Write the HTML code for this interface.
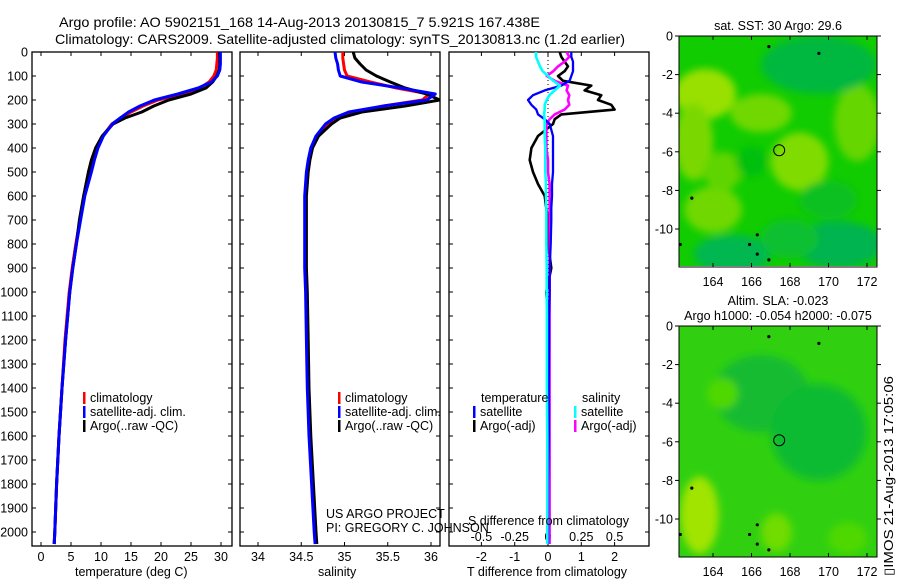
<!DOCTYPE html>
<html><head><meta charset="utf-8"><style>
body{margin:0;background:#fff;}
svg{display:block;font-family:"Liberation Sans",sans-serif;}
text{fill:#000;}
</style></head><body>
<svg id="c" width="900" height="580" viewBox="0 0 900 580">
<defs>
<clipPath id="cp1"><rect x="32" y="52" width="200" height="494"/></clipPath>
<clipPath id="cp2"><rect x="240" y="52" width="200" height="494"/></clipPath>
<clipPath id="cp3"><rect x="449" y="52" width="200" height="494"/></clipPath>
<clipPath id="cm1"><rect x="679" y="36" width="198" height="230"/></clipPath>
<clipPath id="cm2"><rect x="679" y="326" width="198" height="231"/></clipPath>
<filter id="bl" x="-50%" y="-50%" width="200%" height="200%"><feGaussianBlur stdDeviation="4"/></filter>
</defs>
<text x="59" y="27" font-size="14" textLength="481" lengthAdjust="spacingAndGlyphs">Argo profile: AO 5902151_168 14-Aug-2013 20130815_7 5.921S 167.438E</text>
<text x="55" y="44" font-size="14" textLength="570" lengthAdjust="spacingAndGlyphs">Climatology: CARS2009. Satellite-adjusted climatology: synTS_20130813.nc (1.2d earlier)</text>
<g id="maps"></g>
<g id="plots"></g>
<text transform="translate(893,576) rotate(-90)" font-size="13" textLength="200" lengthAdjust="spacingAndGlyphs">▯IMOS 21-Aug-2013 17:05:06</text>
</svg>
<script>
// ---------- data ----------
const depths = [0,25,50,75,100,125,150,175,200,225,250,275,300,350,400,450,500,600,700,800,900,1000,1200,1400,1600,1800,2000,2050];
const tempClim = [29.4,29.4,29.3,29.2,28.8,28.0,26.5,23.5,19.5,17.0,15.0,13.3,11.8,10.3,9.4,8.8,8.3,7.2,6.5,5.8,5.2,4.7,4.0,3.5,3.0,2.6,2.3,2.2];
const tempSat = [29.9,29.9,29.9,29.8,29.4,28.4,26.2,22.8,18.9,16.5,14.6,13.2,11.9,10.4,9.5,8.9,8.4,7.3,6.6,5.9,5.3,4.8,4.1,3.5,3.0,2.6,2.3,2.2];
const tempArgo = [29.7,29.8,29.8,29.7,29.3,28.6,27.5,25.0,21.3,18.8,16.8,14.0,12.0,10.2,9.1,8.4,7.9,7.1,6.4,5.9,5.3,4.8,4.1,3.5,3.0,2.6,2.3,2.2];
const salClim = [34.98,34.98,34.99,35.0,35.03,35.3,35.6,35.98,35.9,35.45,35.1,34.9,34.8,34.68,34.62,34.59,34.57,34.55,34.55,34.55,34.55,34.56,34.57,34.58,34.6,34.63,34.66,34.67];
const salSat = [34.89,34.9,34.92,34.93,34.95,35.2,35.65,36.05,35.95,35.45,35.05,34.88,34.78,34.67,34.61,34.58,34.56,34.54,34.54,34.54,34.54,34.55,34.56,34.57,34.59,34.62,34.65,34.66];
const salArgo = [35.1,35.12,35.18,35.25,35.37,35.53,35.7,35.95,36.1,35.7,35.2,34.95,34.85,34.7,34.63,34.6,34.58,34.56,34.56,34.56,34.56,34.57,34.58,34.59,34.61,34.64,34.67,34.68];
const diffDepths = [0,20,40,60,80,100,120,140,160,180,200,220,240,260,280,300,350,400,450,500,550,600,650,700,800,900,1000,1100,1200,1400,1600,1800,2000,2050];
const dTSat = [0.7,0.7,0.75,0.75,0.75,0.7,0.65,0.4,-0.1,-0.45,-0.6,-0.5,-0.35,-0.3,-0.1,0.05,0.15,0.15,0.15,0.15,0.12,0.12,0.1,0.1,0.08,0.05,0.05,0.03,0.03,0.02,0.02,0,0,0];
const dTArgo = [0.35,0.4,0.5,0.6,0.5,0.3,0.45,1.3,1.1,1.6,1.5,1.9,2.0,0.4,0.2,0.15,-0.3,-0.5,-0.55,-0.45,-0.3,-0.1,-0.05,0,0,0.1,-0.05,0,0,0,0,0,0,0];
const dSSat = [-0.09,-0.09,-0.075,-0.06,-0.04,0,0.04,0.09,0.05,0.01,-0.01,-0.025,-0.025,-0.03,-0.025,-0.025,-0.025,-0.02,-0.02,-0.02,-0.015,-0.015,-0.012,-0.012,-0.012,-0.01,-0.01,-0.008,-0.008,-0.008,-0.005,-0.005,-0.005,-0.005];
const dSArgo = [0.14,0.16,0.125,0.075,0.04,-0.01,0.05,0.15,0.14,0.16,0.15,0.16,0.125,0.05,0.012,-0.012,-0.012,-0.012,0,0,0.012,0.012,0.012,0.012,0.012,0.012,0.012,0.012,0.012,0.012,0.012,0.012,0.012,0.012];
const depthTicks = [0,100,200,300,400,500,600,700,800,900,1000,1100,1200,1300,1400,1500,1600,1700,1800,1900,2000];
const tempTicks = [0,5,10,15,20,25,30];
const salTicks = [34,34.5,35,35.5,36];
const dTTicks = [-2,-1,0,1,2];
const dSTicks = [-0.5,-0.25,0,0.25,0.5];
const dSTickLabels = ["-0.5","-0.25","0","0.25","0.5"];
const lonTicks = [164,166,168,170,172];
const latTicks = [0,-2,-4,-6,-8,-10];
const argoLon = 167.438, argoLat = -5.921;

// ---------- scales ----------
const yD = d => 52 + d*0.24;
const xT = t => 41 + t*6;
const xS = s => 258 + (s-34)*86.5;
const xDT = t => 548 + t*33.3;
const xDS = s => 548 + s*133.2;

const NS="http://www.w3.org/2000/svg";
function mk(tag, attrs, parent, txt){const e=document.createElementNS(NS,tag);for(const k in attrs)e.setAttribute(k,attrs[k]);if(txt!==undefined)e.textContent=txt;parent.appendChild(e);return e;}
const plots=document.getElementById('plots');

function line(xs, vals, dep, fx, color, clip, name, w){
  const pts = vals.map((v,i)=>fx(v).toFixed(1)+','+yD(dep[i]).toFixed(1)).join(' ');
  const el = mk('polyline',{points:pts,fill:'none',stroke:color,'stroke-width':w||2.6,'clip-path':'url(#'+clip+')','stroke-linejoin':'round'},plots);
  
  
}

function frame(x0,x1,name,yLabels){
  const r = mk('rect',{x:x0,y:52,width:x1-x0,height:494,fill:'none',stroke:'#000','stroke-width':1.3},plots);
  
  
  depthTicks.forEach(d=>{
    const y=yD(d);
    mk('line',{x1:x0,y1:y,x2:x0+4,y2:y,stroke:'#000'},plots);
    mk('line',{x1:x1,y1:y,x2:x1-4,y2:y,stroke:'#000'},plots);
    if(yLabels){
      const t=mk('text',{x:28,y:y+4.5,'font-size':12.5,'text-anchor':'end'},plots,String(d));
      
      
    }
  });
}
function xticks(vals,labels,fx,y,name){
  vals.forEach((v,i)=>{
    const x=fx(v);
    mk('line',{x1:x,y1:546,x2:x,y2:542,stroke:'#000'},plots);
    mk('line',{x1:x,y1:52,x2:x,y2:56,stroke:'#000'},plots);
    const t=mk('text',{x:x,y:y,'font-size':12.5,'text-anchor':'middle'},plots,labels[i]);
    
    
  });
}
function label(x,y,txt,name,size,anchor){
  const t=mk('text',{x:x,y:y,'font-size':size||12.5,'text-anchor':anchor||'start'},plots,txt);
  
  
}
function legend(x,y,color,txt,name){
  const r=mk('rect',{x:x,y:y-10,width:2.5,height:12,fill:color},plots);
  
  
  label(x+7,y,txt,name);
}

// Panel 1: temperature
frame(32,232,'temperature-panel',true);
xticks(tempTicks,tempTicks.map(String),xT,561,'temperature-tick-label');
line(0,tempClim,depths,xT,'#ff0000','cp1','temp-climatology-line',3);
line(0,tempArgo,depths,xT,'#000000','cp1','temp-argo-line',3);
line(0,tempSat,depths,xT,'#0000ff','cp1','temp-satellite-line',3);
label(75,576,'temperature (deg C)','temperature-axis-title');
legend(83,402,'#ff0000','climatology','legend-climatology');
legend(83,416,'#0000ff','satellite-adj. clim.','legend-satellite');
legend(83,430,'#000000','Argo(..raw -QC)','legend-argo');

// Panel 2: salinity
frame(240,440,'salinity-panel',false);
xticks(salTicks,salTicks.map(String),xS,561,'salinity-tick-label');
line(0,salClim,depths,xS,'#ff0000','cp2','sal-climatology-line',3);
line(0,salArgo,depths,xS,'#000000','cp2','sal-argo-line',3);
line(0,salSat,depths,xS,'#0000ff','cp2','sal-satellite-line',3);
label(318,576,'salinity','salinity-axis-title');
legend(338,402,'#ff0000','climatology','legend-climatology-2');
legend(338,416,'#0000ff','satellite-adj. clim.','legend-satellite-2');
legend(338,430,'#000000','Argo(..raw -QC)','legend-argo-2');
label(326,518,'US ARGO PROJECT','project-label');
label(326,532,'PI: GREGORY C. JOHNSON','pi-label');

// Panel 3: differences
frame(449,649,'difference-panel',false);
xticks(dTTicks,dTTicks.map(String),xDT,561,'t-diff-tick-label');
dSTicks.forEach((v,i)=>{
  const t=mk('text',{x:xDS(v),y:541,'font-size':12.5,'text-anchor':'middle'},plots,dSTickLabels[i]);
  
  
});
mk('line',{x1:xDT(0),y1:52,x2:xDT(0),y2:546,stroke:'#000','stroke-dasharray':'1,3'},plots);
line(0,dTArgo,diffDepths,xDT,'#000000','cp3','t-diff-argo-line',2.6);
line(0,dSArgo,diffDepths,xDS,'#ff00ff','cp3','s-diff-argo-line',2.6);
line(0,dTSat,diffDepths,xDT,'#0000ff','cp3','t-diff-satellite-line',2.3);
line(0,dSSat,diffDepths,xDS,'#00ffff','cp3','s-diff-satellite-line',2.6);
label(468,525,'S difference from climatology','s-diff-axis-title');
label(467,576,'T difference from climatology','t-diff-axis-title');
label(481,402,'temperature','legend-temperature-heading');
label(582,402,'salinity','legend-salinity-heading');
legend(473,416,'#0000ff','satellite','legend-t-satellite');
legend(473,430,'#000000','Argo(-adj)','legend-t-argo');
legend(574,416,'#00ffff','satellite','legend-s-satellite');
legend(574,430,'#ff00ff','Argo(-adj)','legend-s-argo');

// ---------- maps ----------
const maps=document.getElementById('maps');
const lonX = lon => 713 + (lon-164)*19.25;
function drawMap(top, clip, base, blobs, name, titles){
  const g=mk('g',{},maps);
  
  
  const latY = lat => top - lat*19.3;
  const gi=mk('g',{'clip-path':'url(#'+clip+')'},g);
  mk('rect',{x:679,y:top,width:198,height:231,fill:base},gi);
  const gb=mk('g',{filter:'url(#bl)'},gi);
  blobs.forEach(b=>mk('ellipse',{cx:lonX(b[0]),cy:latY(b[1]),rx:b[2]*19.25,ry:b[3]*19.3,fill:b[4]},gb));
  [[162.3,-10.8],[165.9,-10.8],[166.3,-11.3],[166.9,-11.6],[166.9,-0.55],[169.5,-0.9],[162.9,-8.4],[166.3,-10.3]].forEach(p=>{
    mk('circle',{cx:lonX(p[0]),cy:latY(p[1]),r:1.6,fill:'#000'},gi);
  });
  mk('rect',{x:679,y:top,width:198,height:231,fill:'none',stroke:'#000','stroke-width':1},g);
  const c=mk('circle',{cx:lonX(argoLon),cy:latY(argoLat),r:5.5,fill:'none',stroke:'#000','stroke-width':1},g);
  
  
  lonTicks.forEach(l=>{
    const x=lonX(l);
    mk('line',{x1:x,y1:top,x2:x,y2:top+4,stroke:'#000'},g);
    mk('line',{x1:x,y1:top+231,x2:x,y2:top+227,stroke:'#000'},g);
    const t=mk('text',{x:x,y:top+250,'font-size':12.5,'text-anchor':'middle'},g,String(l));
    
    
  });
  latTicks.forEach(l=>{
    const y=latY(l);
    mk('line',{x1:679,y1:y,x2:675,y2:y,stroke:'#000'},g);
    mk('line',{x1:877,y1:y,x2:881,y2:y,stroke:'#000'},g);
    const t=mk('text',{x:673,y:y+4.5,'font-size':12.5,'text-anchor':'end'},g,String(l));
    
    
  });
  titles.forEach((s,i)=>{
    const t=mk('text',{x:778,y:top-6-(titles.length-1-i)*15,'font-size':12.5,'text-anchor':'middle'},g,s);
    
    
  });
}
drawMap(36,'cm1','#10cc00',[
  [163.6,-3,1.6,1.3,'#99e000'],[163,-5.5,1,2,'#7ad800'],[166.5,-4,1.6,1,'#6fd800'],[168.5,-6.5,1.5,1.5,'#80dc00'],
  [171.5,-4.5,1.2,2,'#66d600'],[169.5,-1.5,3,1.5,'#00b840'],[164,-9,1.5,1.2,'#70d800'],[165,-11.3,2,1,'#00b850'],[170.5,-10.8,2.3,1.2,'#00b450'],[168,-10.5,1.5,1,'#10c030'],
  [164.5,-7,1,1,'#60d400'],[166,-6.5,0.8,0.8,'#00c010'],[170,-8.5,1.5,1,'#10c020']
],'sst-map',['sat. SST: 30 Argo: 29.6']);
drawMap(326,'cm2','#30d010',[
  [166.5,-3.5,2.5,2,'#14bb30'],[169.5,-5.5,2.5,2.5,'#10bb30'],[163.3,-9.8,1,2,'#a0e400'],[164.5,-3.5,0.8,0.8,'#50d800'],[167.3,-10.7,0.8,1,'#70dc00'],[171,-11,1,0.8,'#50d800']
],'sla-map',['Altim. SLA: -0.023','Argo h1000: -0.054 h2000: -0.075']);
</script>
</body></html>
